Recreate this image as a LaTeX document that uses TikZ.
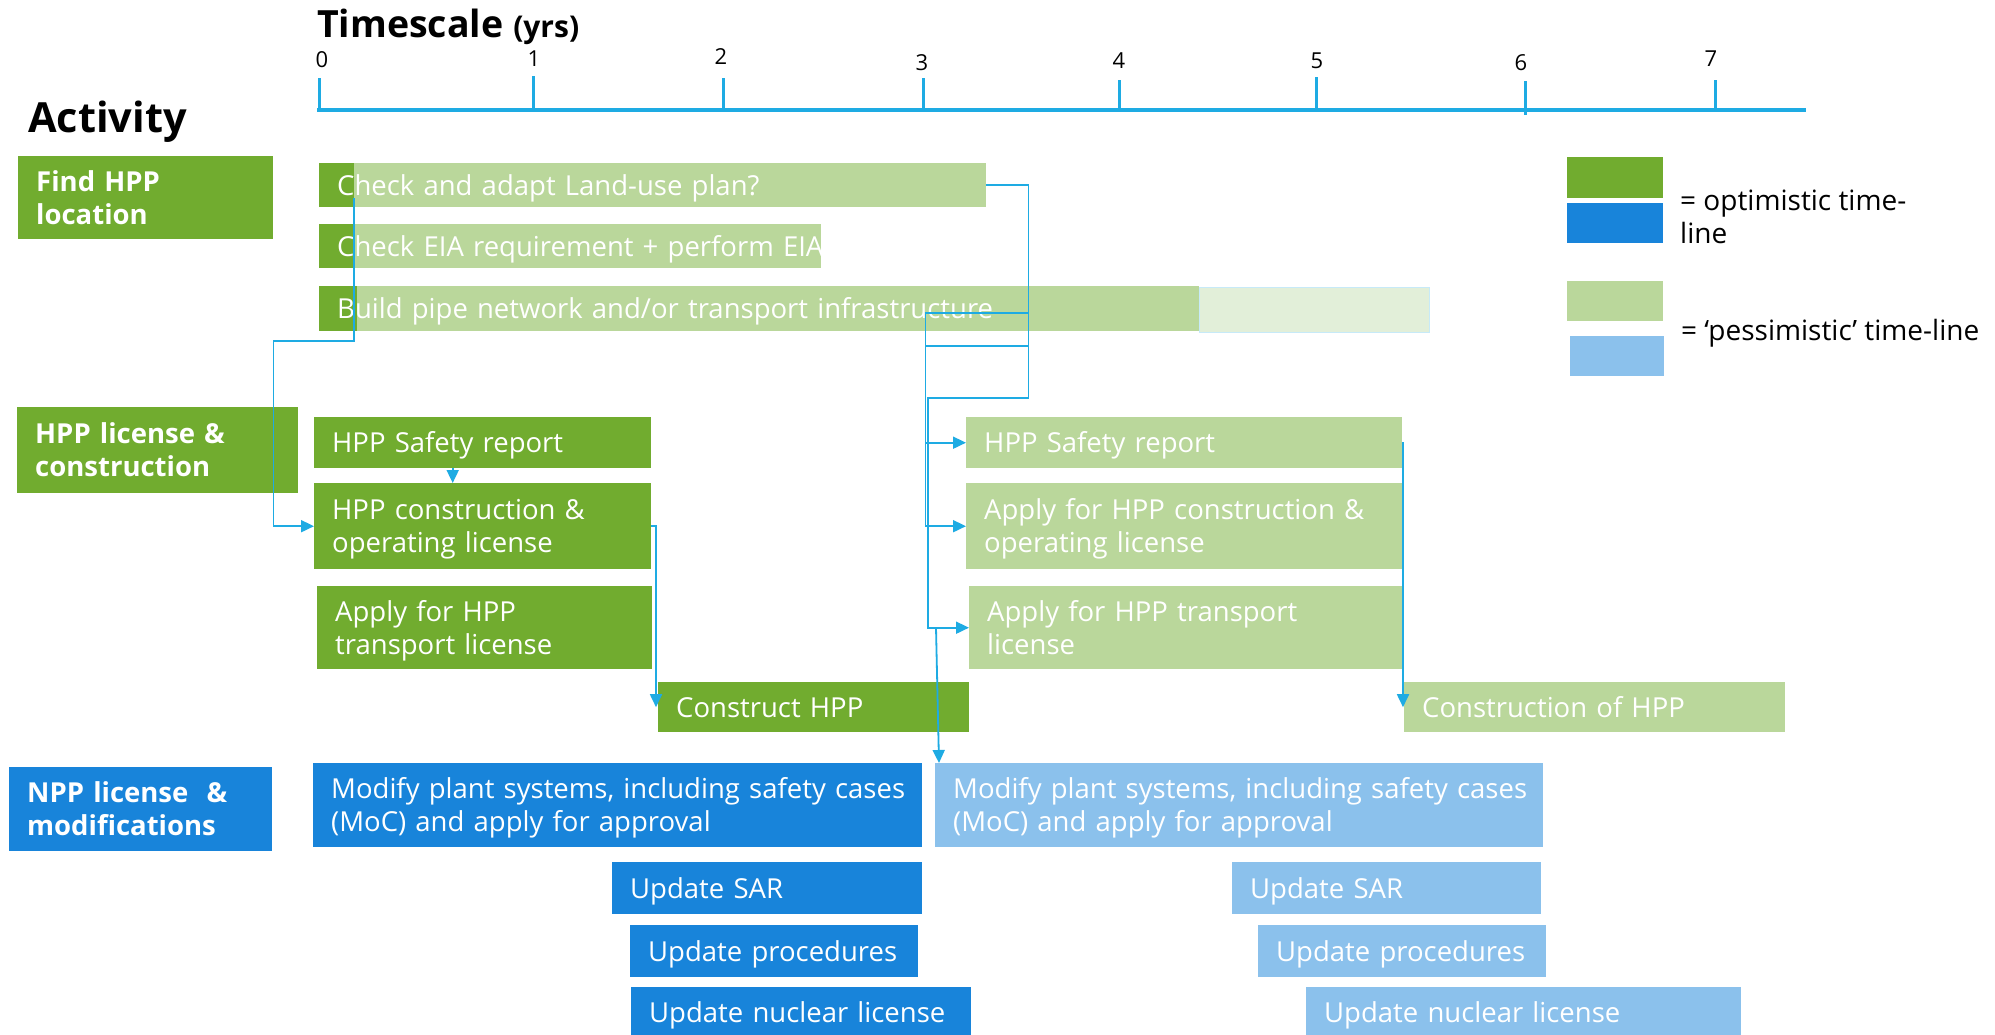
\documentclass[tikz,border=0pt]{standalone}
\usepackage{fontspec}
\setmainfont{Open Sans}
\usepackage{tikz}
\usetikzlibrary{positioning,arrows.meta,calc}
\definecolor{optgreen}{HTML}{71AC2F}
\definecolor{pesgreen}{HTML}{BAD79B}
\definecolor{palegreen}{HTML}{E2EFD9}
\definecolor{optblue}{HTML}{1884DA}
\definecolor{pesblue}{HTML}{8BC1EC}
\definecolor{linkcyan}{HTML}{1EABE3}

\begin{document}
\begin{tikzpicture}[
  x=1pt, y=-1pt,
  font=\fontsize{27.5}{33}\selectfont,
  task/.style={anchor=north west, inner sep=0pt, align=left, text=white,
    text height=19.6pt, text depth=0pt,
    execute at begin node={\leftskip=18pt\rightskip=-60pt plus 1fil}},
  two/.style={text depth=33pt},
  wh/.style 2 args={text width=#1pt, minimum width=#1pt, minimum height=#2pt},
  cat/.style={task, two, font=\fontsize{27.5}{33}\selectfont\bfseries},
  lead/.style={path picture={\fill[optgreen] (path picture bounding box.north west)
    rectangle ([xshift=#1pt]path picture bounding box.south west);}},
  swatch/.style={anchor=north west, inner sep=0pt, minimum width=96pt, minimum height=40pt},
  link/.style={draw=linkcyan, line width=1.8pt},
  arr/.style={-{Triangle[length=13pt, width=12pt]}},
  axtick/.style={draw=linkcyan, line width=3pt},
  ]
  \fill[white] (0,0) rectangle (1995,1034);
  \useasboundingbox (0,0) rectangle (1995,1034);

  % time axis
  \node[anchor=base west, inner sep=0pt, font=\fontsize{37.5}{44}\selectfont\bfseries] (tscale) at (317,37)
    {Timescale {\fontsize{30}{36}\selectfont(yrs)}};
  \draw[draw=linkcyan, line width=4.5pt] (317,110) -- (1806,110);
  \foreach \x/\top/\bot/\lx/\ly/\n in {319/78/112/322/60/0, 533/76/112/534/59/1, 723/78/112/721/57/2,
      923/78/112/922/63/3, 1119/80/112/1119/61/4, 1316/77/112/1317/61/5, 1525/81/115/1521/63/6,
      1715/80/112/1711/59/7}
    {\draw[axtick] (\x,\top) -- (\x,\bot);
     \node[inner sep=0pt, font=\fontsize{22}{26}\selectfont] (yr\n) at (\lx,\ly) {\n};}

  \node[anchor=base west, inner sep=0pt, font=\fontsize{41.5}{50}\selectfont\bfseries] (act) at (28,132) {Activity};

  % activity groups
  \node[cat, wh={255}{83}, fill=optgreen] (findloc) at (18,156) {Find HPP\\location};
  \node[cat, wh={281}{86}, fill=optgreen] (hpplic) at (17,407) {HPP license \&\\construction};
  \node[cat, wh={263}{84}, fill=optblue] (npplic) at (9,767) {NPP license \ \&\\modifications};

  % location bars
  \node[task, wh={667}{44}, fill=pesgreen, lead=35] (chk) at (319,163) {Check and adapt Land-use plan?};
  \node[task, wh={502}{44}, fill=pesgreen, lead=35] (eia) at (319,224) {Check EIA requirement + perform EIA};
  \node[task, wh={880}{45}, fill=pesgreen, lead=38] (pipe) at (319,286) {Build pipe network and/or transport infrastructure};
  \node[anchor=north west, inner sep=0pt, minimum width=230pt, minimum height=45pt,
    fill=palegreen, draw=linkcyan!25, line width=1pt] (pipeX) at (1199,287) {};

  % HPP, optimistic
  \node[task, wh={337}{51}, fill=optgreen] (srO) at (314,417) {HPP Safety report};
  \node[task, two, wh={337}{86}, fill=optgreen] (licO) at (314,483) {HPP construction \&\\operating license};
  \node[task, two, wh={335}{83}, fill=optgreen] (trO) at (317,586) {Apply for HPP\\transport license};
  \node[task, wh={311}{50}, fill=optgreen] (conO) at (658,682) {Construct HPP};

  % HPP, pessimistic
  \node[task, wh={436}{51}, fill=pesgreen] (srP) at (966,417) {HPP Safety report};
  \node[task, two, wh={436}{86}, fill=pesgreen] (apP) at (966,483) {Apply for HPP construction \&\\operating license};
  \node[task, two, wh={435}{83}, fill=pesgreen] (trP) at (969,586) {Apply for HPP transport\\license};
  \node[task, wh={381}{50}, fill=pesgreen] (conP) at (1404,682) {Construction of HPP};

  % NPP, optimistic
  \node[task, two, wh={609}{84}, fill=optblue] (mdO) at (313,763) {Modify plant systems, including safety cases\\(MoC) and apply for approval};
  \node[task, wh={310}{52}, fill=optblue] (sarO) at (612,862) {Update SAR};
  \node[task, wh={288}{52}, fill=optblue] (prO) at (630,925) {Update procedures};
  \node[task, wh={340}{51}, fill=optblue] (nlO) at (631,987) {Update nuclear license};

  % NPP, pessimistic
  \node[task, two, wh={608}{84}, fill=pesblue] (mdP) at (935,763) {Modify plant systems, including safety cases\\(MoC) and apply for approval};
  \node[task, wh={309}{52}, fill=pesblue] (sarP) at (1232,862) {Update SAR};
  \node[task, wh={288}{52}, fill=pesblue] (prP) at (1258,925) {Update procedures};
  \node[task, wh={435}{51}, fill=pesblue] (nlP) at (1306,987) {Update nuclear license};

  % legend
  \node[swatch, fill=optgreen, minimum height=41pt] (legOg) at (1567,157) {};
  \node[swatch, fill=optblue] (legOb) at (1567,203) {};
  \node[swatch, fill=pesgreen] (legPg) at (1567,281) {};
  \node[swatch, fill=pesblue, minimum width=94pt] (legPb) at (1570,336) {};
  \node[anchor=base west, inner sep=0pt, align=left, font=\fontsize{28}{33}\selectfont] (legO) at (1680,243)
    {= optimistic time-\\line};
  \node[anchor=base west, inner sep=0pt, font=\fontsize{28}{33}\selectfont] (legP) at (1681,340)
    {= ‘pessimistic’ time-line};

  % optimistic links
  \coordinate (hook) at ([xshift=35pt, yshift=-13pt]chk.west);
  \draw[link, arr] (hook) -- ++(0,143) -| (findloc.east |- licO.west) -- (licO.west);
  \draw[link, arr] ([xshift=-30pt]srO.south) -- ([xshift=-30pt]licO.north);
  \draw[link, arr] (licO.east) -| ([xshift=-2pt]conO.west);

  % pessimistic links
  \coordinate (jr) at ([xshift=42pt]chk.east);
  \coordinate (jl) at ($(jr)+(-103,128)$);
  \draw[link, arr] (chk.east) -- (jr) -- ++(0,213) -| ([xshift=-41pt]trP.west) -- (trP.west);
  \draw[link] (jl) -- (jl -| jr);
  \draw[link] (jl) ++(0,33) -- ++(103,0);
  \draw[link, arr] (jl) |- (srP.west);
  \draw[link, arr] (jl) |- (apP.west);
  \draw[link, arr] ([xshift=-33pt]trP.west) -- ([xshift=4pt]mdP.north west);
  \draw[link, arr] (srP.east) -| ([xshift=-1pt]conP.west);
\end{tikzpicture}
\end{document}
